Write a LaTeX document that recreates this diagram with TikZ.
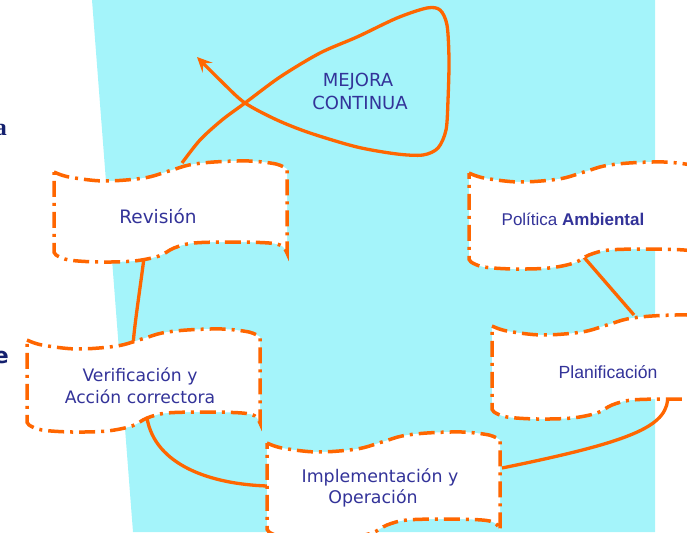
\documentclass[tikz,border=0pt]{standalone}
\usepackage{fontspec}
\setmainfont{DejaVu Sans}
\newfontfamily\arialf{Liberation Sans}
\newfontfamily\serifb{Liberation Serif}
\usetikzlibrary{arrows.meta,calc}
\definecolor{cyanbg}{HTML}{A4F4FA}
\definecolor{orng}{HTML}{FF6600}
\definecolor{txtblue}{HTML}{333399}
\definecolor{navy}{HTML}{14206E}
\tikzset{
  boxnode/.style={inner sep=0pt, outer sep=0pt, minimum width=233pt, anchor=north west},
  bannerline/.style={draw=orng, fill=white, line width=3.5pt, dash pattern=on 16pt off 6pt on 3pt off 6pt},
  conn/.style={draw=orng, line width=3.3pt},
  lbl/.style={text=txtblue, inner sep=0pt, anchor=base},
}
% #1 = NW x, #2 = NW y, #3 = height
\newcommand\bannerdraw[3]{%
  \begin{scope}[shift={(#1,#2)}]
    \draw[bannerline] plot[smooth,tension=0.55] coordinates
      {(0,0) (15,5) (50,9) (90,6) (115,-1) (135,-7) (160,-10) (195,-11) (222,-8) (233,-3)}
      -- plot[smooth,tension=0.55] coordinates
      {(233,#3+2) (228,#3-5) (215,#3-8) (180,#3-9) (140,#3-8) (120,#3-3) (105,#3+5) (80,#3+10) (45,#3+11) (15,#3+9) (2,#3+4) (0,#3)}
      -- cycle;
  \end{scope}}
\begin{document}
\begin{tikzpicture}[x=1pt,y=-1pt]
\useasboundingbox (0,0) rectangle (687,532);
\clip (0,0) rectangle (687,532);
\fill[cyanbg] (92,0) -- (655,0) -- (655,532) -- (133,532) -- cycle;

% partial title letters at the left edge (cut off in the original as well)
\node[anchor=base east, inner sep=0pt, text=navy, font=\serifb\bfseries\fontsize{24pt}{28pt}\selectfont] (fraga) at (7,135) {a};
\node[anchor=base east, inner sep=0pt, text=navy, font=\bfseries\fontsize{22pt}{26pt}\selectfont] (frage) at (9,363) {e};

% banner frames (named)
\node[boxnode, minimum height=79pt] (rev) at (54,172) {};
\node[boxnode, minimum height=85pt] (pol) at (469,173) {};
\node[boxnode, minimum height=82pt] (plan) at (492,326) {};
\node[boxnode, minimum height=81pt] (ver) at (27,340) {};
\node[boxnode, minimum height=85pt] (imp) at (267,443) {};

% connector end points
\coordinate (loopstart) at ($(rev.north west)+(128,-9)$);
\coordinate (loopend) at (197,57);

% connectors
\draw[conn] ($(pol.south west)+(113,-3)$) -- ($(plan.north west)+(142,-11)$);
\draw[conn] ($(plan.south west)+(176,-13)$) .. controls (668,425) and (640,440) .. ($(imp.north east)+(2,25)$);
\draw[conn] ($(imp.north west)+(0,43)$) .. controls (210,484) and (155,465) .. ($(ver.south west)+(120,-3)$);
\draw[conn] ($(ver.north west)+(106,5)$) .. controls (135,320) and (140,290) .. ($(rev.south west)+(91,-1)$);
\draw[conn, -{Stealth[length=15pt,width=14pt,inset=6pt]}] plot[smooth,tension=0.5] coordinates
  {(loopstart) (200,140) (222,120) (245,103) (280,77) (320,53) (357,37) (397,18) (427,8) (440,10) (447,25) (449,60) (448,100) (446,130) (438,148) (423,155) (397,154) (357,147) (310,133) (277,120) (245,103) (223,83) (loopend)};

% banners
\bannerdraw{54}{172}{79}
\bannerdraw{469}{173}{85}
\bannerdraw{492}{326}{82}
\bannerdraw{27}{340}{81}
\bannerdraw{267}{443}{85}

% texts
\node[lbl, font=\fontsize{18.5pt}{22pt}\selectfont] (revt) at (158,223) {Revisión};
\node[lbl, font=\arialf\fontsize{17pt}{20pt}\selectfont] (polt) at (573,225) {Política \textbf{Ambiental}};
\node[lbl, font=\arialf\fontsize{17.6pt}{20pt}\selectfont] (plant) at (608,378) {Planificación};
\node[lbl, font=\fontsize{17.2pt}{20pt}\selectfont] (vert1) at (140,381) {Verificación y};
\node[lbl, font=\fontsize{17.2pt}{20pt}\selectfont] (vert2) at (140,403) {Acción correctora};
\node[lbl, font=\fontsize{17.4pt}{20pt}\selectfont] (impt1) at (380,482) {Implementación y};
\node[lbl, font=\fontsize{17.4pt}{20pt}\selectfont] (impt2) at (373,503) {Operación};
\node[lbl, font=\fontsize{18pt}{22pt}\selectfont] (mej1) at (358,87) {MEJORA};
\node[lbl, font=\fontsize{18pt}{22pt}\selectfont] (mej2) at (360,110) {CONTINUA};
\end{tikzpicture}
\end{document}
